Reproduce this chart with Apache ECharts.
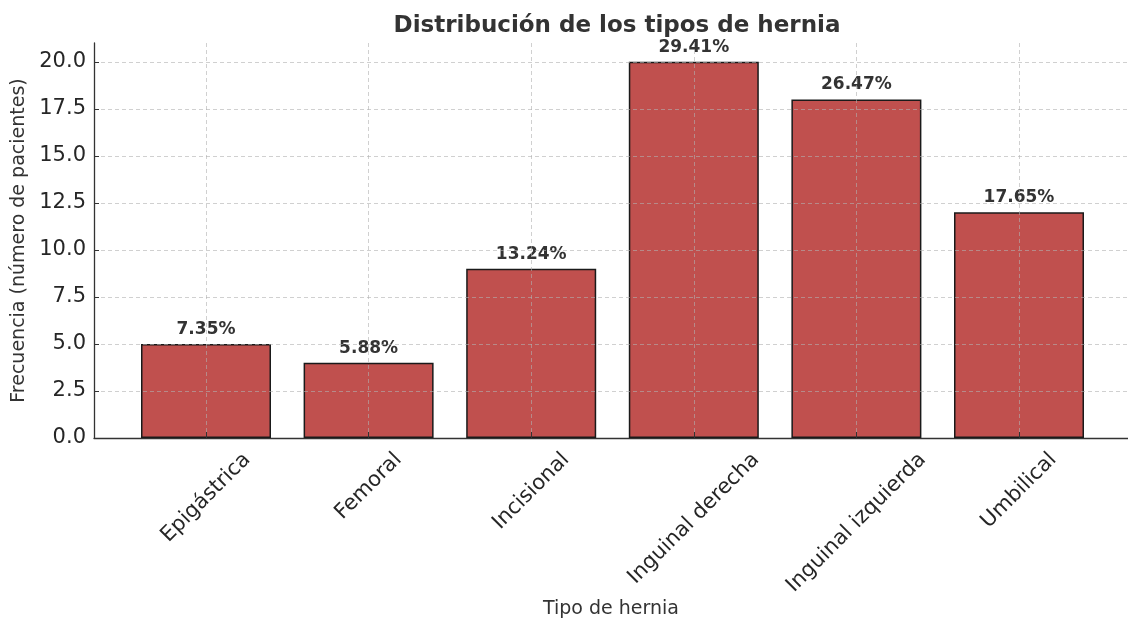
<!DOCTYPE html>
<html lang="es">
<head>
    <meta charset="UTF-8">
    <title>Distribución de los tipos de hernia</title>
    <script src="https://cdn.jsdelivr.net/npm/echarts@6/dist/echarts.min.js"></script>
    <style>
        html, body { margin: 0; padding: 0; background: #fff; }
        #chart { width: 1128px; height: 623px; }
    </style>
</head>
<body>
    <div id="chart"></div>
    <script>
        // datos
        const tipos = ['Epigástrica', 'Femoral', 'Incisional', 'Inguinal derecha', 'Inguinal izquierda', 'Umbilical'];
        const pacientes = [5, 4, 9, 20, 18, 12];
        const porcentajes = ['7.35%', '5.88%', '13.24%', '29.41%', '26.47%', '17.65%'];

        const font = 'DejaVu Sans';
        const labelSize = 21;
        const gridLine = { type: [4, 3], color: 'rgba(176,176,176,0.6)', width: 1 };

        // etiquetas giradas 45° y centradas bajo cada marca (como matplotlib):
        // se desplaza el texto con padding según su ancho medido
        const ctx = document.createElement('canvas').getContext('2d');
        ctx.font = labelSize + 'px "' + font + '"';
        const rich = {};
        tipos.forEach((t, i) => {
            const p = (ctx.measureText(t).width + labelSize) / 2;
            rich['l' + i] = {
                fontFamily: font, fontSize: labelSize, color: '#262626',
                padding: [p, p, 0, 0]
            };
        });

        const chart = echarts.init(document.getElementById('chart'));
        chart.setOption({
            animation: false,
            textStyle: { fontFamily: font },
            title: {
                text: 'Distribución de los tipos de hernia',
                left: 612,
                textAlign: 'center',
                top: 10,
                textStyle: { fontFamily: font, fontSize: 23, fontWeight: 'bold', color: '#333' }
            },
            grid: [
                { left: 94, right: 0, top: 43, bottom: 185, outerBoundsMode: 'none', containLabel: false },
                { left: 206, width: 813, top: 43, bottom: 185, outerBoundsMode: 'none', containLabel: false }
            ],
            xAxis: [
                {
                    gridIndex: 0, type: 'value', min: 0, max: 1,
                    axisLine: { show: true, lineStyle: { color: '#333', width: 1.3 } },
                    axisTick: { show: false }, axisLabel: { show: false }, splitLine: { show: false },
                    name: 'Tipo de hernia', nameLocation: 'middle', nameGap: 162,
                    nameTextStyle: { fontFamily: font, fontSize: 19, color: '#333' }
                },
                {
                    gridIndex: 1, type: 'category', data: tipos, boundaryGap: false, z: 3,
                    axisLine: { show: false },
                    axisTick: { show: true, inside: true, length: 6, lineStyle: { color: '#333' } },
                    axisLabel: {
                        rotate: 45, margin: 11, align: 'center', verticalAlign: 'middle',
                        fontFamily: font, fontSize: labelSize, color: '#262626',
                        formatter: (v, i) => '{l' + i + '|' + v + '}',
                        rich: rich
                    },
                    splitLine: { show: true, lineStyle: gridLine }
                }
            ],
            yAxis: [
                {
                    gridIndex: 0, type: 'value', min: 0, max: 21, interval: 2.5, z: 3,
                    axisLine: { show: true, lineStyle: { color: '#333', width: 1.3 } },
                    axisTick: { show: true, inside: true, length: 5, lineStyle: { color: '#333' } },
                    axisLabel: {
                        showMaxLabel: false, margin: 8, fontFamily: font, fontSize: 21, color: '#262626',
                        formatter: v => v.toFixed(1)
                    },
                    splitLine: { show: true, showMinLine: false, showMaxLine: false, lineStyle: gridLine },
                    name: 'Frecuencia (número de pacientes)', nameLocation: 'middle', nameGap: 64,
                    nameTextStyle: { fontFamily: font, fontSize: 19, color: '#333' }
                },
                {
                    gridIndex: 1, type: 'value', min: 0, max: 21, show: false
                }
            ],
            series: [{
                type: 'bar',
                xAxisIndex: 1, yAxisIndex: 1,
                data: pacientes,
                barWidth: 130,
                clip: false,
                itemStyle: { color: '#c0504e', borderColor: '#1a1a1a', borderWidth: 1.5 },
                label: {
                    show: true, position: 'top', distance: 6,
                    fontFamily: font, fontSize: 17, fontWeight: 'bold', color: '#333',
                    formatter: p => porcentajes[p.dataIndex]
                }
            }]
        });
    </script>
</body>
</html>
